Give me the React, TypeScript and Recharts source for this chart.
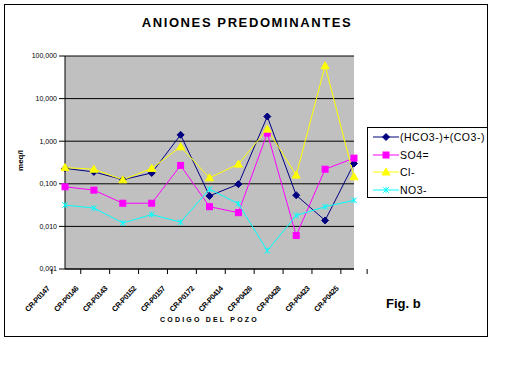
import React from 'react'
import { LineChart, Line, XAxis, YAxis, CartesianGrid } from 'recharts'

const categories = ['CR-P0147', 'CR-P0146', 'CR-P0143', 'CR-P0152', 'CR-P0157', 'CR-P0172', 'CR-P0414', 'CR-P0426', 'CR-P0428', 'CR-P0423', 'CR-P0425']
const hco3 = [0.23, 0.19, 0.125, 0.18, 1.41, 0.052, 0.098, 3.8, 0.054, 0.0138, 0.3]
const so4 = [0.085, 0.071, 0.035, 0.035, 0.27, 0.029, 0.021, 1.55, 0.0061, 0.22, 0.4]
const cl = [0.24, 0.22, 0.124, 0.23, 0.74, 0.138, 0.29, 1.92, 0.16, 59, 0.146]
const no3 = [0.0316, 0.027, 0.012, 0.019, 0.0126, 0.075, 0.034, 0.0027, 0.018, 0.029, 0.041]
const yTicks = [0.001, 0.01, 0.1, 1, 10, 100]

const data = categories.map((name, i) => ({ name, hco3: hco3[i], so4: so4[i], cl: cl[i], no3: no3[i] }))

const W = 508
const H = 388
const M = { top: 56, right: 154, left: 15, bottom: 69 }
const Y_AXIS_W = 50
const X_AXIS_H = 50
const plotW = W - M.left - M.right - Y_AXIS_W
const band = plotW / categories.length
const font = 'Arial, "Liberation Sans", sans-serif'

const NAVY = '#000080'
const MAGENTA = '#FF00FF'
const YELLOW = '#FFFF00'
const CYAN = '#00FFFF'

function Diamond({ cx, cy, color }: any) {
  const r = 3.5
  return <polygon points={`${cx},${cy - r} ${cx + r},${cy} ${cx},${cy + r} ${cx - r},${cy}`} fill={color} stroke={color} />
}
function Square({ cx, cy, color }: any) {
  return <rect x={cx - 3} y={cy - 3} width={6} height={6} fill={color} stroke={color} />
}
function Triangle({ cx, cy, color }: any) {
  return <polygon points={`${cx},${cy - 4} ${cx + 4},${cy + 3} ${cx - 4},${cy + 3}`} fill={color} stroke={color} />
}
function Star({ cx, cy, color }: any) {
  const r = 2.8
  return (
    <g stroke={color} strokeWidth={1}>
      <line x1={cx - r} y1={cy - r} x2={cx + r} y2={cy + r} />
      <line x1={cx - r} y1={cy + r} x2={cx + r} y2={cy - r} />
      <line x1={cx} y1={cy - r} x2={cx} y2={cy + r} />
    </g>
  )
}

const dotFor = (Shape: any, color: string) => (p: any) =>
  p.cx == null || p.cy == null ? <g key={p.key ?? p.index} /> : <Shape key={p.key ?? p.index} cx={p.cx} cy={p.cy} color={color} />

function XTick(props: any) {
  const { x, y, payload, index } = props
  const half = band / 2
  return (
    <g>
      <line x1={x - half} x2={x - half} y1={y} y2={y + 5} stroke="#000" />
      {index === categories.length - 1 && <line x1={x + half} x2={x + half} y1={y} y2={y + 5} stroke="#000" />}
      <text
        transform={`translate(${x - 15},${y + 20}) rotate(-47)`}
        textAnchor="end"
        fontSize={7.5}
        fontWeight="bold"
        letterSpacing={-0.4}
        fontFamily={font}
        fill="#000"
      >
        {payload.value}
      </text>
    </g>
  )
}

const fmt = (v: number) => v.toFixed(3).replace('.', ',')

const legendItems = [
  { label: '(HCO3-)+(CO3-)', color: NAVY, Shape: Diamond },
  { label: 'SO4=', color: MAGENTA, Shape: Square },
  { label: 'Cl-', color: YELLOW, Shape: Triangle },
  { label: 'NO3-', color: CYAN, Shape: Star },
]

export default function App() {
  return (
    <div style={{ position: 'absolute', left: 0, top: 0, width: W, height: H, background: '#fff', fontFamily: font }}>
      <div style={{ position: 'absolute', left: 4, top: 4, width: 482, height: 331, border: '1px solid #000' }} />
      <div style={{ position: 'absolute', left: 0, width: 494, top: 15, textAlign: 'center', fontSize: 13, fontWeight: 'bold', letterSpacing: 1.6 }}>
        ANIONES PREDOMINANTES
      </div>
      <div style={{ position: 'absolute', left: 10, top: 156, transform: 'rotate(-90deg)', fontSize: 8, fontWeight: 'bold' }}>meq/l</div>
      <div style={{ position: 'absolute', left: 65, width: 289, top: 316, textAlign: 'center', fontSize: 7, fontWeight: 'bold', letterSpacing: 2.2 }}>
        CODIGO DEL POZO
      </div>
      <div style={{ position: 'absolute', left: 386, top: 296, fontSize: 13, fontWeight: 'bold' }}>Fig. b</div>
      <LineChart width={W} height={H} data={data} margin={M}>
        <CartesianGrid vertical={false} stroke="#000" fill="#C0C0C0" />
        <XAxis
          dataKey="name"
          height={X_AXIS_H}
          interval={0}
          tickLine={false}
          tickSize={0}
          tickMargin={0}
          axisLine={{ stroke: '#000' }}
          tick={<XTick />}
        />
        <YAxis
          scale="log"
          domain={[0.001, 100]}
          ticks={yTicks}
          allowDataOverflow
          width={Y_AXIS_W}
          tickFormatter={fmt}
          axisLine={{ stroke: '#000' }}
          tickLine={{ stroke: '#000' }}
          tick={{ fontSize: 7, fill: '#000', fontFamily: font }}
        />
        <Line dataKey="hco3" stroke={NAVY} strokeWidth={1} dot={dotFor(Diamond, NAVY)} isAnimationActive={false} />
        <Line dataKey="so4" stroke={MAGENTA} strokeWidth={1} dot={dotFor(Square, MAGENTA)} isAnimationActive={false} />
        <Line dataKey="cl" stroke={YELLOW} strokeWidth={1} dot={dotFor(Triangle, YELLOW)} isAnimationActive={false} />
        <Line dataKey="no3" stroke={CYAN} strokeWidth={1} dot={dotFor(Star, CYAN)} isAnimationActive={false} />
      </LineChart>
      <div style={{ position: 'absolute', left: 367, top: 127, width: 119, height: 69, border: '1px solid #000', background: '#fff' }}>
        {legendItems.map((it, i) => (
          <div key={it.label} style={{ position: 'absolute', left: 5, top: 2 + i * 17.5, height: 14, display: 'flex', alignItems: 'center', whiteSpace: 'nowrap' }}>
            <svg width={26} height={14}>
              <line x1={0} x2={26} y1={7} y2={7} stroke={it.color} />
              <it.Shape cx={13} cy={7} color={it.color} />
            </svg>
            <span style={{ fontSize: 10.5, marginLeft: 1, letterSpacing: 0.5 }}>{it.label}</span>
          </div>
        ))}
      </div>
    </div>
  )
}
